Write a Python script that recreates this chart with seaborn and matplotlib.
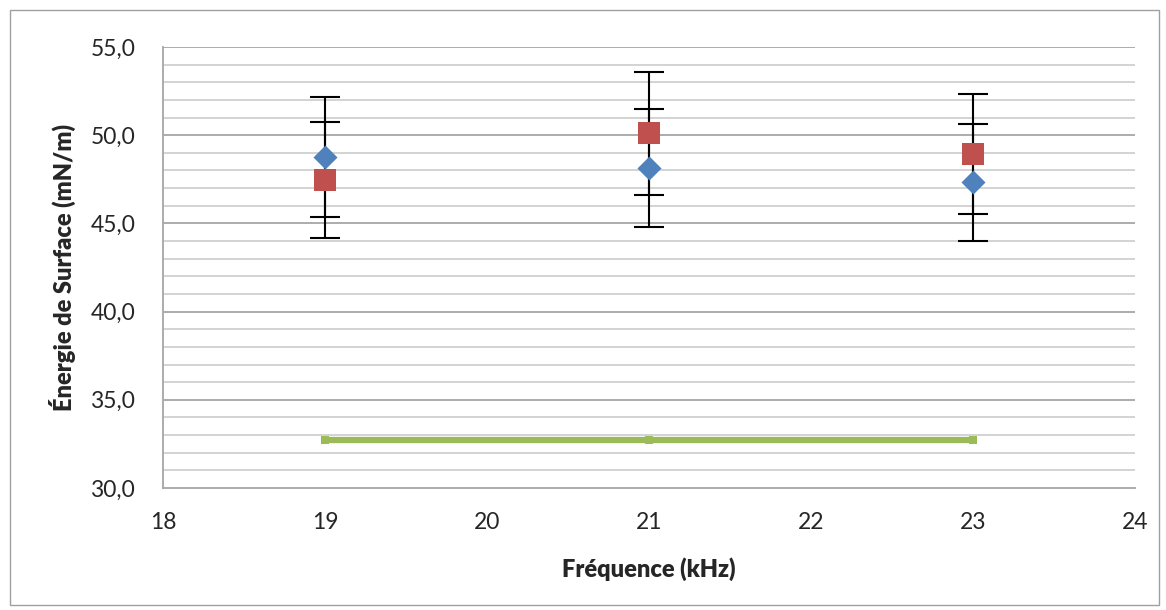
import numpy as np
import pandas as pd
import matplotlib
matplotlib.use("Agg")
import matplotlib.pyplot as plt
import seaborn as sns
from matplotlib.patches import Rectangle

# values
freq = [19, 21, 23]
serie_bleue = [48.74, 48.12, 47.33]
err_bleue = [3.4, 3.35, 3.32]
serie_rouge = [47.46, 50.10, 48.93]
err_rouge = [3.3, 3.5, 3.41]
serie_verte = [32.72, 32.72, 32.72]

x_ticks = [18, 19, 20, 21, 22, 23, 24]
y_ticks = [30, 35, 40, 45, 50, 55]

sns.set_style("white")
plt.rcParams["font.family"] = ["Lato", "DejaVu Sans"]

fig = plt.figure(figsize=(11.66, 6.10), dpi=100)
ax = fig.add_axes([0.1398, 0.2, 0.8336, 0.723])

# grid lines (minor every 1, major every 5)
for v in np.arange(31, 55, 1):
    if v % 5:
        ax.axhline(v, color="#d0d0d0", lw=1.3, zorder=0)
for v in y_ticks[1:]:
    ax.axhline(v, color="#a6a6a6", lw=1.3, zorder=0)

df_b = pd.DataFrame({"f": freq, "e": serie_bleue})
df_r = pd.DataFrame({"f": freq, "e": serie_rouge})
df_v = pd.DataFrame({"f": freq, "e": serie_verte})

ax.errorbar(freq, serie_bleue, yerr=err_bleue, fmt="none", ecolor="black",
            elinewidth=1.5, capsize=11, capthick=1.5, zorder=2)
ax.errorbar(freq, serie_rouge, yerr=err_rouge, fmt="none", ecolor="black",
            elinewidth=1.5, capsize=11, capthick=1.5, zorder=2)

sns.lineplot(data=df_v, x="f", y="e", ax=ax, color="#9bbb59", lw=4.5,
             marker="s", markersize=6, markeredgewidth=0, zorder=3)
sns.scatterplot(data=df_b, x="f", y="e", ax=ax, color="#4f81bd", marker="D",
                s=150, linewidth=0, zorder=4)
sns.scatterplot(data=df_r, x="f", y="e", ax=ax, color="#c0504d", marker="s",
                s=240, linewidth=0, zorder=5)

ax.set_xlim(18, 24)
ax.set_ylim(30, 55)
ax.set_xticks(x_ticks)
ax.set_yticks(y_ticks)
ax.set_yticklabels([f"{v:.1f}".replace(".", ",") for v in y_ticks])
ax.tick_params(axis="both", direction="out", length=6, width=1.3,
               color="#a6a6a6", labelsize=16.5)
ax.tick_params(axis="y", pad=14)
ax.tick_params(axis="x", pad=11)

for s in ["top", "right"]:
    ax.spines[s].set_visible(False)
for s in ["left", "bottom"]:
    ax.spines[s].set_color("#a6a6a6")
    ax.spines[s].set_linewidth(1.3)

ax.set_xlabel("Fréquence (kHz)", fontsize=17, fontweight="heavy", labelpad=18)
ax.set_ylabel("Énergie de Surface (mN/m)", fontsize=17, fontweight="heavy", labelpad=10)

fig.patches.append(Rectangle((0.009, 0.008), 0.985, 0.975, transform=fig.transFigure,
                             fill=False, edgecolor="#a0a0a0", lw=1))

fig.savefig("out.png", dpi=100)
